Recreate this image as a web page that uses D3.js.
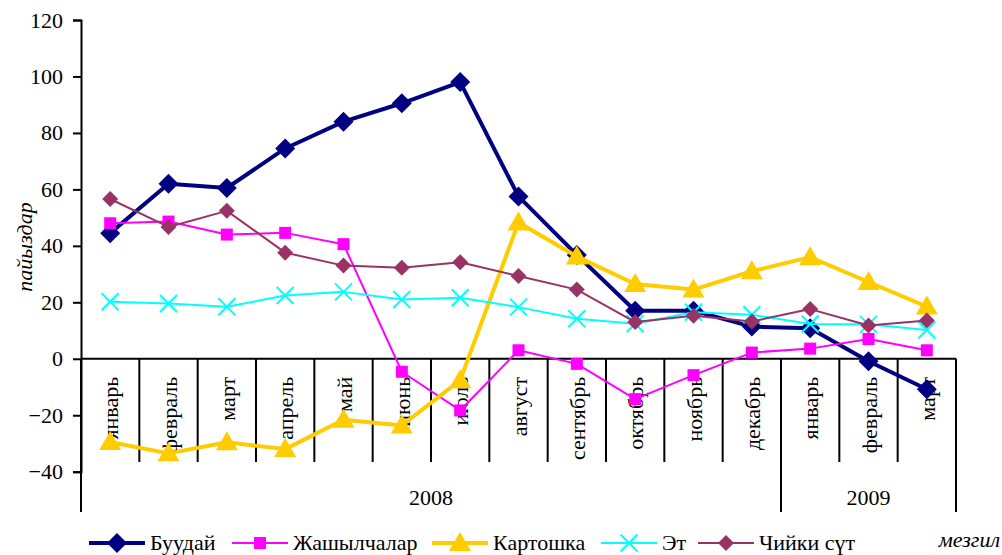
<!DOCTYPE html>
<html>
<head>
<meta charset="utf-8">
<script src="https://cdn.jsdelivr.net/npm/d3@7"></script>
<style>
  body { margin: 0; background: #fff; }
</style>
</head>
<body>
<div id="chart"></div>
<script>
// data
const months = ["январь", "февраль", "март", "апрель", "май", "июнь", "июль", "август",
  "сентябрь", "октябрь", "ноябрь", "декабрь", "январь", "февраль", "март"]
const years = [{label: "2008", from: 0, to: 12}, {label: "2009", from: 12, to: 15}]
const yTicks = [-40, -20, 0, 20, 40, 60, 80, 100, 120]

const buudai = [44.5, 62, 60.5, 74.5, 84, 90.5, 98, 57.5, 36.8, 17, 17, 11.4, 10.8, -0.9, -10.8]
const jashylchalar = [48, 48.6, 44, 44.6, 40.6, -4.6, -18.3, 3, -1.8, -14.3, -5.8, 2.2, 3.6, 7, 3]
const kartoshka = [-29.5, -33.5, -29.6, -32, -21.6, -23.6, -7.6, 48.3, 36.2, 26.5, 24.5, 31, 36, 27.2, 18.5]
const et = [20.2, 19.6, 18.4, 22.4, 23.7, 21, 21.6, 18.3, 14.2, 12.4, 16.5, 15.6, 12.3, 12.2, 10.2]
const chiykiSut = [56.6, 46.7, 52.4, 37.6, 33, 32.2, 34.2, 29.3, 24.5, 13, 15.2, 13.2, 17.6, 11.8, 13.6]

const series = [
  {name: "Буудай", values: buudai, color: "#000080", width: 4, marker: "diamondBig"},
  {name: "Жашылчалар", values: jashylchalar, color: "#FF00FF", width: 2, marker: "square"},
  {name: "Картошка", values: kartoshka, color: "#FFCC00", width: 4, marker: "triangle"},
  {name: "Эт", values: et, color: "#00FFFF", width: 2, marker: "cross"},
  {name: "Чийки сүт", values: chiykiSut, color: "#993366", width: 2, marker: "diamond"},
]
const legendX = [89, 232, 432, 601, 698]

const width = 1002
const height = 555
const plotLeft = 81
const plotRight = 956
const monthBottom = 462
const yearBottom = 512
const fontSize = 22
const serif = '"Liberation Serif", "Times New Roman", serif'

const $svg = d3.select("#chart").append("svg")
  .attr("width", width)
  .attr("height", height)

const xScale = d3.scaleBand()
  .domain(d3.range(months.length))
  .range([plotLeft, plotRight])

const yScale = d3.scaleLinear()
  .domain([-40, 120])
  .range([471.7, 20])

const cx = i => xScale(i) + xScale.bandwidth() / 2
const y0 = yScale(0)

//marker shapes
function drawMarker(g, type, color, x, y) {
  if (type == "diamondBig" || type == "diamond") {
    const r = type == "diamondBig" ? 10 : 8
    g.append("path")
      .attr("d", `M${x},${y - r}L${x + r},${y}L${x},${y + r}L${x - r},${y}Z`)
      .attr("fill", color)
  } else if (type == "square") {
    g.append("rect")
      .attr("x", x - 6).attr("y", y - 6)
      .attr("width", 12).attr("height", 12)
      .attr("fill", color)
  } else if (type == "triangle") {
    g.append("path")
      .attr("d", `M${x},${y - 11}L${x + 11},${y + 8}L${x - 11},${y + 8}Z`)
      .attr("fill", color)
  } else if (type == "cross") {
    const r = 8.5
    g.append("path")
      .attr("d", `M${x - r},${y - r}L${x + r},${y + r}M${x - r},${y + r}L${x + r},${y - r}`)
      .attr("stroke", color)
      .attr("stroke-width", 2)
  }
}

//month labels (drawn under the lines)
$svg.selectAll("text.month")
  .data(months)
  .enter().append("text")
  .attr("class", "month")
  .attr("transform", (d, i) => `translate(${cx(i) + 8},${y0 + 18}) rotate(-90)`)
  .attr("text-anchor", "end")
  .style("font-family", serif)
  .style("font-size", fontSize + "px")
  .text(d => d)

//separators of the two level category axis
const yearEdges = new Set(years.flatMap(d => [d.from, d.to]))
$svg.selectAll("line.sep")
  .data(d3.range(months.length + 1))
  .enter().append("line")
  .attr("class", "sep")
  .attr("x1", d => xScale(d) ?? plotRight)
  .attr("x2", d => xScale(d) ?? plotRight)
  .attr("y1", y0)
  .attr("y2", d => yearEdges.has(d) ? yearBottom : monthBottom)
  .attr("stroke", "#000")
  .attr("stroke-width", 2)

$svg.selectAll("text.year")
  .data(years)
  .enter().append("text")
  .attr("class", "year")
  .attr("x", d => ((xScale(d.from) ?? plotRight) + (xScale(d.to) ?? plotRight)) / 2)
  .attr("y", 505)
  .attr("text-anchor", "middle")
  .style("font-family", serif)
  .style("font-size", fontSize + "px")
  .text(d => d.label)

//y axis
const yAxis = d3.axisLeft(yScale)
  .tickValues(yTicks)
  .tickSize(8)
  .tickPadding(10)
  .tickFormat(d3.format("d"))

const $yAxis = $svg.append("g")
  .attr("transform", `translate(${plotLeft},0)`)
  .call(yAxis)
$yAxis.select(".domain").attr("stroke-width", 2)
$yAxis.selectAll(".tick line").attr("stroke-width", 2)
$yAxis.selectAll(".tick text")
  .style("font-family", serif)
  .style("font-size", fontSize + "px")

//zero line
$svg.append("line")
  .attr("x1", plotLeft).attr("x2", plotRight)
  .attr("y1", y0).attr("y2", y0)
  .attr("stroke", "#000")
  .attr("stroke-width", 2)

$svg.append("text")
  .attr("transform", "translate(32,247) rotate(-90)")
  .attr("text-anchor", "middle")
  .style("font-family", serif)
  .style("font-size", fontSize + "px")
  .style("font-style", "italic")
  .text("пайыздар")

//series
const line = d3.line()
  .x((d, i) => cx(i))
  .y(d => yScale(d))

series.forEach(s => {
  const g = $svg.append("g")
  g.append("path")
    .attr("d", line(s.values))
    .attr("fill", "none")
    .attr("stroke", s.color)
    .attr("stroke-width", s.width)
    .attr("stroke-linejoin", "round")
  s.values.forEach((v, i) => drawMarker(g, s.marker, s.color, cx(i), yScale(v)))
})

//legend
const legendY = 543
series.forEach((s, k) => {
  const g = $svg.append("g")
  const x0 = legendX[k]
  g.append("line")
    .attr("x1", x0).attr("x2", x0 + 56)
    .attr("y1", legendY).attr("y2", legendY)
    .attr("stroke", s.color)
    .attr("stroke-width", s.width)
  drawMarker(g, s.marker, s.color, x0 + 28, legendY)
  g.append("text")
    .attr("x", x0 + 61)
    .attr("y", legendY + 7)
    .style("font-family", serif)
    .style("font-size", fontSize + "px")
    .text(s.name)
})

$svg.append("text")
  .attr("x", 1000)
  .attr("y", 547)
  .attr("text-anchor", "end")
  .style("font-family", serif)
  .style("font-size", fontSize + "px")
  .style("font-style", "italic")
  .text("мезгил")
</script>
</body>
</html>
